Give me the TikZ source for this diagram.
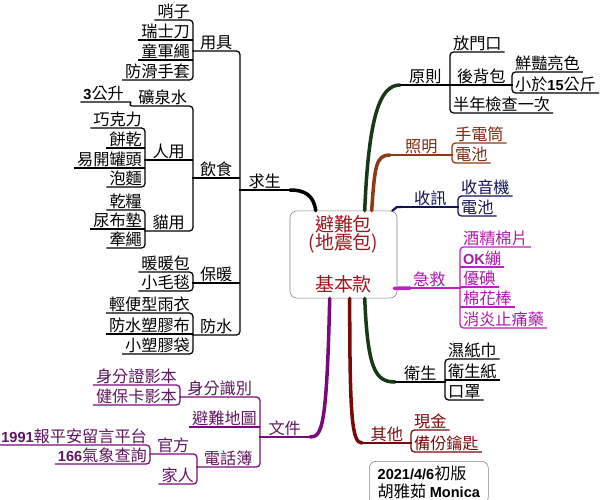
\documentclass[tikz,border=0pt]{standalone}
\usepackage{fontspec}
\setmainfont{Noto Sans CJK TC}
\newfontfamily\numfont[Scale=0.9]{Liberation Sans}
\newcommand{\bnum}[1]{{\numfont\bfseries #1}}
\usepackage{tikz}
\usetikzlibrary{calc}
\definecolor{CoreRed}{HTML}{A0141E}
\definecolor{BranchGreen}{HTML}{163A16}
\definecolor{LampBrown}{HTML}{8E3A12}
\definecolor{LampText}{HTML}{7A2810}
\definecolor{RadioNavy}{HTML}{121258}
\definecolor{AidMagenta}{HTML}{C020C0}
\definecolor{AidText}{HTML}{A81CA8}
\definecolor{OtherRed}{HTML}{780A0A}
\definecolor{DocPurple}{HTML}{7A0A7A}
\definecolor{DocText}{HTML}{5E165E}

\begin{document}
\begin{tikzpicture}[
  x=0.025cm, y=-0.025cm,
  topic/.style={inner xsep=0.07cm, inner ysep=0.03cm, font=\fontsize{11.5}{13}\selectfont},
  lt/.style={topic, anchor=south east},
  rt/.style={topic, anchor=south west},
  ln/.style={line width=0.9pt, rounded corners=2.5pt},
  branch/.style={line width=2.5pt, line cap=round}
  ]
  \useasboundingbox (0,0) rectangle (600,500);
  % core
  \node[draw=gray, fill=white, rounded corners=5pt, minimum width=2.675cm, minimum height=2.175cm, align=center, text=CoreRed, font=\fontsize{13.5}{12.8}\selectfont] (root) at (343.5,254.5) {避難包\\(地震包)\\[15pt]基本款};

  % survival
  \node[lt, minimum width=1.25cm] (qs) at (290,190) {求生};
  \node[lt, minimum width=1.175cm] (yj) at (240,51) {用具};
  \node[lt, minimum width=1.175cm] (ys) at (240,178) {飲食};
  \node[lt, minimum width=1.175cm] (bn) at (240,283) {保暖};
  \node[lt, minimum width=1.175cm] (fs) at (240,335) {防水};
  \node[lt] (shaozi) at (193,20) {哨子};
  \node[lt] (dao) at (193,40) {瑞士刀};
  \node[lt] (sheng) at (193,60) {童軍繩};
  \node[lt] (shoutao) at (193,80) {防滑手套};
  \node[lt, minimum width=1.5cm] (water) at (193,106) {礦泉水};
  \node[lt] (liter) at (127,102) {\bnum{3}公升};
  \node[lt, minimum width=1.2cm] (ry) at (193,160) {人用};
  \node[lt] (choc) at (145,128) {巧克力};
  \node[lt] (biscuit) at (145,148) {餅乾};
  \node[lt] (can) at (145,168) {易開罐頭};
  \node[lt] (noodle) at (145,187) {泡麵};
  \node[lt, minimum width=1.2cm] (my) at (193,231) {貓用};
  \node[lt] (feed) at (145,210) {乾糧};
  \node[lt] (pad) at (145,229) {尿布墊};
  \node[lt] (leash) at (145,248) {牽繩};
  \node[lt] (warm) at (193,272) {暖暖包};
  \node[lt] (blanket) at (193,291) {小毛毯};
  \node[lt] (raincoat) at (193,313) {輕便型雨衣};
  \node[lt] (tarp) at (193,334) {防水塑膠布};
  \node[lt] (bag) at (193,354) {小塑膠袋};
  \draw[branch] ($(root.north west)+(26,0)$) .. controls +(-2,-16) and +(14,0) .. (qs.south east);
  \draw[ln] (yj.south west) -- (yj.south east) |- (fs.south west);
  \draw[ln] (shaozi.south west) -- (shaozi.south east) |- (shoutao.south west);
  \draw[ln] (water.south west) -- (water.south east) |- (my.south west);
  \draw[ln] (choc.south west) -- (choc.south east) |- (noodle.south west);
  \draw[ln] (feed.south west) -- (feed.south east) |- (leash.south west);
  \draw[ln] (warm.south west) -- (warm.south east) |- (blanket.south west);
  \draw[ln] (raincoat.south west) -- (raincoat.south east) |- (bag.south west);
  \draw[ln] (liter.south west) -- (liter.south east) .. controls +(5,0) and +(-5,0) .. (water.south west);
  \foreach \n in {qs,ys,bn,dao,sheng,ry,biscuit,can,pad,tarp}
    \draw[ln] (\n.south west) -- (\n.south east);

  % documents
  \node[lt, text=DocText, minimum width=1.25cm] (wj) at (310,437) {文件};
  \node[lt, text=DocText, minimum width=2cm] (id) at (260,397) {身分識別};
  \node[lt, text=DocText] (map) at (260,427) {避難地圖};
  \node[lt, text=DocText, minimum width=1.575cm] (phone) at (260,467) {電話簿};
  \node[lt, text=DocText] (idcopy) at (180,385) {身分證影本};
  \node[lt, text=DocText] (nhi) at (180,405) {健保卡影本};
  \node[lt, text=DocText, minimum width=1.175cm] (gf) at (197,454) {官方};
  \node[lt, text=DocText] (family) at (197,484) {家人};
  \node[lt, text=DocText] (msg) at (150,445) {\bnum{1991}報平安留言平台};
  \node[lt, text=DocText] (weather) at (150,464) {\bnum{166}氣象查詢};
  \draw[branch, DocPurple] ($(root.south west)+(40,0)$) .. controls +(-3,130) and +(12,0) .. (wj.south east);
  \draw[ln, DocPurple] (id.south west) -- (id.south east) |- (phone.south west);
  \draw[ln, DocPurple] (idcopy.south west) -- (idcopy.south east) |- (nhi.south west);
  \draw[ln, DocPurple] (gf.south west) -- (gf.south east) |- (family.south west);
  \draw[ln, DocPurple] (msg.south west) -- (msg.south east) |- (weather.south west);
  \foreach \n in {wj,map}
    \draw[ln, DocPurple] (\n.south west) -- (\n.south east);

  % principles
  \node[rt, minimum width=1.25cm] (yz) at (400,85) {原則};
  \node[rt] (door) at (450,52) {放門口};
  \node[rt, minimum width=1.55cm] (pack) at (450,85) {後背包};
  \node[rt] (check) at (450,113) {半年檢查一次};
  \node[rt] (bright) at (512,72) {鮮豔亮色};
  \node[rt] (weight) at (512,93) {小於\bnum{15}公斤};
  \draw[branch, BranchGreen] ($(root.north west)+(75,0)$) .. controls +(4,-95) and +(-20,0) .. (yz.south west);
  \draw[ln] (door.south east) -- (door.south west) |- (check.south east);
  \draw[ln] (bright.south east) -- (bright.south west) |- (weight.south east);
  \foreach \n in {yz,pack}
    \draw[ln] (\n.south west) -- (\n.south east);

  % lighting
  \node[rt, text=LampText, minimum width=1.55cm] (zm) at (390,155) {照明};
  \node[rt, text=LampText] (torch) at (452,143) {手電筒};
  \node[rt, text=LampText] (batt1) at (452,163) {電池};
  \draw[branch, LampBrown] ($(root.north west)+(82,0)$) .. controls +(3,-45) and +(-14,0) .. (zm.south west);
  \draw[ln, LampBrown] (zm.south west) -- (zm.south east);
  \draw[ln, LampBrown] (torch.south east) -- (torch.south west) |- (batt1.south east);

  % radio
  \node[rt, text=RadioNavy, minimum width=1.4cm] (sx) at (402,207) {收訊};
  \node[rt, text=RadioNavy] (radio) at (458,196) {收音機};
  \node[rt, text=RadioNavy] (batt2) at (458,216) {電池};
  \draw[branch, RadioNavy, line width=1.6pt] ($(root.north east)+(-5,0)$) .. controls +(6,-4) and +(-8,0) .. (sx.south west);
  \draw[ln, RadioNavy] (sx.south west) -- (sx.south east);
  \draw[ln, RadioNavy] (radio.south east) -- (radio.south west) |- (batt2.south east);

  % first aid
  \node[rt, text=AidText, minimum width=1.55cm] (jj) at (398,288) {急救};
  \node[rt, text=AidText] (alc) at (460,247) {酒精棉片};
  \node[rt, text=AidText] (okb) at (460,267) {\bnum{OK}繃};
  \node[rt, text=AidText] (iod) at (460,287) {優碘};
  \node[rt, text=AidText] (swab) at (460,307) {棉花棒};
  \node[rt, text=AidText] (pain) at (460,328) {消炎止痛藥};
  \draw[branch, AidMagenta] ($(root.south east)+(-3,-10)$) -- ($(jj.south west)+(12,0)$);
  \draw[ln, AidMagenta] (alc.south east) -- (alc.south west) |- (pain.south east);
  \foreach \n in {jj,okb,iod,swab}
    \draw[ln, AidMagenta] (\n.south west) -- (\n.south east);

  % hygiene
  \node[rt, minimum width=1.25cm] (ws) at (395,382) {衛生};
  \node[rt] (wipe) at (445,359) {濕紙巾};
  \node[rt] (tissue) at (445,380) {衛生紙};
  \node[rt] (mask) at (445,400) {口罩};
  \draw[branch, BranchGreen] ($(root.south west)+(75,0)$) .. controls +(3,70) and +(-20,0) .. (ws.south west);
  \draw[ln] (wipe.south east) -- (wipe.south west) |- (mask.south east);
  \foreach \n in {ws,tissue}
    \draw[ln] (\n.south west) -- (\n.south east);

  % others
  \node[rt, text=OtherRed, minimum width=1.225cm] (qt) at (362,443) {其他};
  \node[rt, text=OtherRed] (cash) at (411,430) {現金};
  \node[rt, text=OtherRed] (key) at (411,452) {備份鑰匙};
  \draw[branch, OtherRed] ($(root.south west)+(60,0)$) .. controls +(0,120) and +(-10,0) .. (qt.south west);
  \draw[ln, OtherRed] (qt.south west) -- (qt.south east);
  \draw[ln, OtherRed] (cash.south east) -- (cash.south west) |- (key.south east);

  % version note
  \node[draw=gray, rounded corners=5pt, anchor=north west, minimum width=2.975cm, minimum height=0.875cm, align=left, font=\fontsize{11.5}{13}\selectfont] (note) at (369,461) {\bnum{2021/4/6}初版\\胡雅茹 \bnum{Monica}};
\end{tikzpicture}
\end{document}
